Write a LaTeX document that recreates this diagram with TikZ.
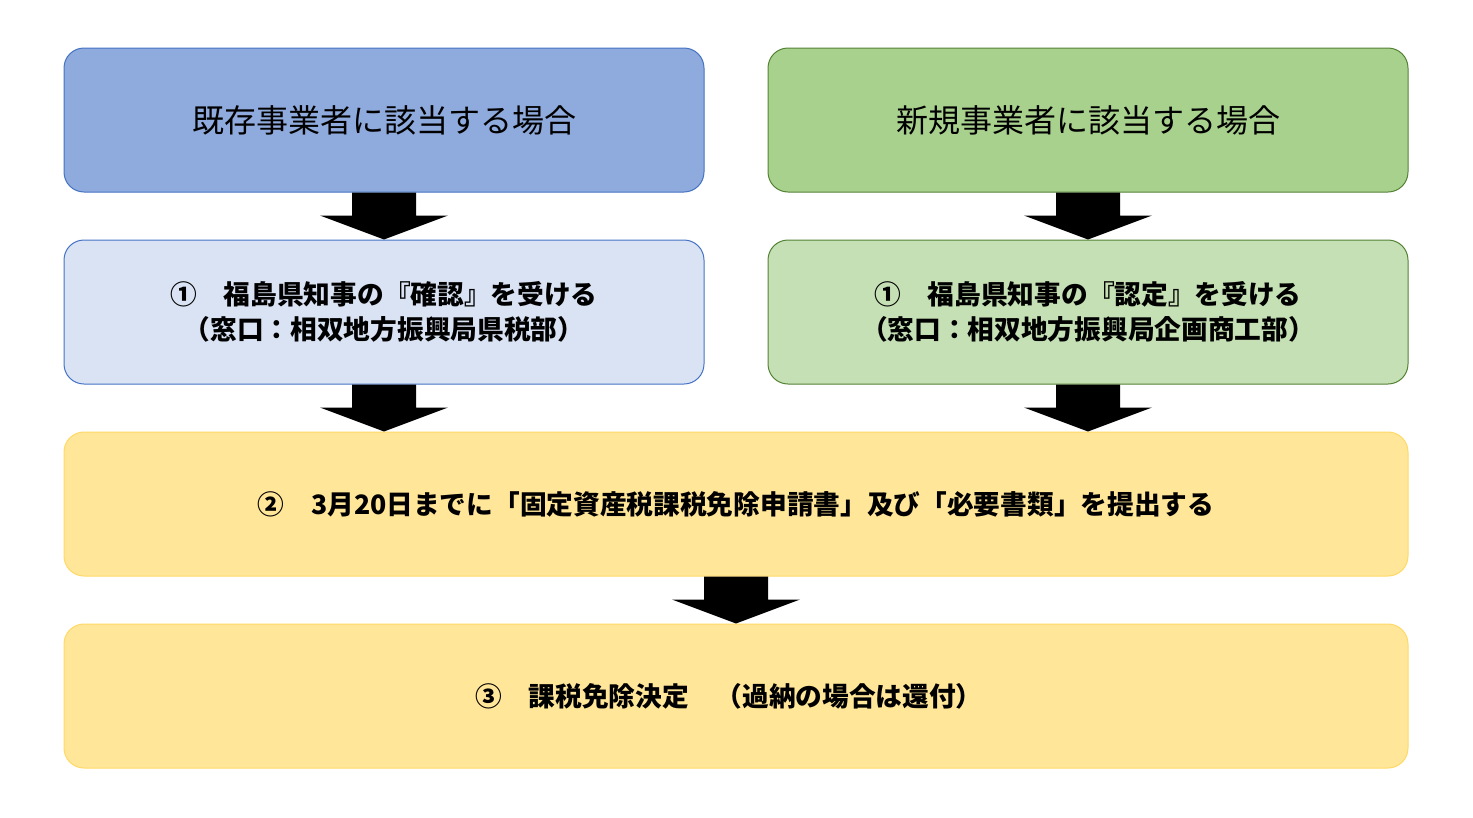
\documentclass[tikz,border=0pt]{standalone}
\usepackage{fontspec}
\setmainfont{Noto Sans CJK JP}
\usetikzlibrary{calc}
\definecolor{bluefill}{HTML}{8FAADC}
\definecolor{bluelight}{HTML}{DAE3F3}
\definecolor{blueline}{HTML}{4472C4}
\definecolor{greenfill}{HTML}{A9D18E}
\definecolor{greenlight}{HTML}{C5E0B4}
\definecolor{greenline}{HTML}{548235}
\definecolor{yellowfill}{HTML}{FFE699}
\definecolor{yellowline}{HTML}{FFD966}
\tikzset{
  box/.style={rectangle, rounded corners=20pt, minimum height=144pt, inner sep=0pt, line width=1pt, align=center, text=black},
  halfbox/.style={box, minimum width=640pt},
  widebox/.style={box, minimum width=1344pt},
  headfont/.style={font=\fontsize{32}{40}\selectfont},
  bodyfont/.style={font=\fontsize{26.7}{35}\selectfont\bfseries},
  blockarrow/.style={fill=black, draw=none}
}
\newcommand\blockarr[2]{%
  \path[blockarrow] ($(#1)+(-32,0)$) -- ($(#2)+(-32,-24)$) -- ($(#2)+(-64,-24)$) -- (#2)
    -- ($(#2)+(64,-24)$) -- ($(#2)+(32,-24)$) -- ($(#1)+(32,0)$) -- cycle;}
\begin{document}
\begin{tikzpicture}[x=1pt, y=-1pt]
\useasboundingbox (0,0) rectangle (1473,817);
\node[halfbox, headfont, fill=bluefill, draw=blueline] (b1) at (384,120) {既存事業者に該当する場合};
\node[halfbox, headfont, fill=greenfill, draw=greenline] (g1) at (1088,120) {新規事業者に該当する場合};
\node[halfbox, bodyfont, fill=bluelight, draw=blueline] (b2) at (384,312) {①　福島県知事の『確認』を受ける\\（窓口：相双地方振興局県税部）};
\node[halfbox, bodyfont, fill=greenlight, draw=greenline] (g2) at (1088,312) {①　福島県知事の『認定』を受ける\\（窓口：相双地方振興局企画商工部）};
\node[widebox, bodyfont, fill=yellowfill, draw=yellowline] (y3) at (736,504) {②　3月20日までに「固定資産税課税免除申請書」及び「必要書類」を提出する};
\node[widebox, bodyfont, fill=yellowfill, draw=yellowline] (y4) at (736,696) {③　課税免除決定　（過納の場合は還付）\hspace{14pt}};
\blockarr{b1.south}{b2.north}
\blockarr{g1.south}{g2.north}
\blockarr{b2.south}{b2.south |- y3.north}
\blockarr{g2.south}{g2.south |- y3.north}
\blockarr{y3.south}{y4.north}
\end{tikzpicture}
\end{document}
